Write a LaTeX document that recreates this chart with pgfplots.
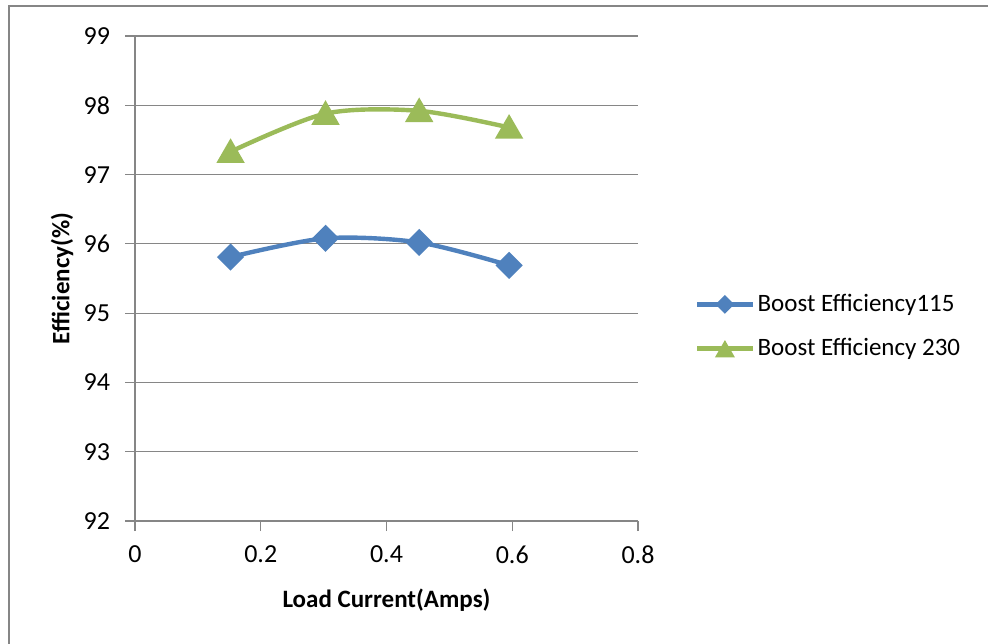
\documentclass[border=0pt]{standalone}
\usepackage{fontspec}
\setmainfont{Carlito}
\usepackage{pgfplots}
\pgfplotsset{compat=1.18}
\definecolor{ser1}{RGB}{79,129,189}
\definecolor{ser2}{RGB}{155,187,89}
\definecolor{gridc}{RGB}{134,134,134}
\begin{document}
\begin{tikzpicture}
\useasboundingbox (0,0) rectangle (494pt,321.5pt);
\draw[gridc, line width=1pt] (4.5pt,-5pt) -- (4.5pt,318.5pt) -- (500pt,318.5pt);
\begin{axis}[
  at={(67.5pt,61pt)}, anchor=south west,
  scale only axis, width=251.5pt, height=242.5pt,
  xmin=0, xmax=0.8, ymin=92, ymax=99,
  xtick={0,0.2,0.4,0.6,0.8}, ytick={92,93,...,99},
  xticklabels={0,0.2,0.4,0.6,0.8},
  axis x line*=bottom, axis y line*=left,
  axis line style={gridc, line width=0.6pt, -},
  tick style={gridc, line width=0.6pt},
  tick align=outside, major tick length=5pt,
  ymajorgrids, grid style={gridc, line width=0.6pt},
  /pgf/number format/assume math mode=true,
  ticklabel style={font=\fontsize{13}{15}\selectfont},
  xticklabel style={yshift=-4pt},
  yticklabel style={xshift=-4pt},
  xlabel={Load Current(Amps)}, ylabel={Efficiency(\%)},
  label style={font=\fontsize{12.5}{15}\selectfont\bfseries},
  xlabel style={at={(axis description cs:0.5,-0.163)}, anchor=center},
  ylabel style={at={(axis description cs:-0.145,0.5)}, anchor=center, rotate=0},
  legend style={draw=none, fill=none, at={(1.113,0.401)}, anchor=west,
    font=\fontsize{12.5}{15}\selectfont, row sep=9pt, inner sep=0pt,
    nodes={inner sep=1.5pt}},
  legend cell align=left,
  legend image code/.code={\draw[mark repeat=2,mark phase=2,#1,every mark/.append style={scale=0.6}] plot coordinates {(0pt,0pt) (13.75pt,0pt) (27.5pt,0pt)};},
  clip=false,
]
\addplot[ser1, line width=2.2pt, smooth, mark=square*, mark size=3.7pt, mark options={rotate=45, solid}]
  coordinates {(0.152,95.81) (0.303,96.08) (0.452,96.02) (0.595,95.69)};
\addlegendentry{Boost Efficiency115}
\addplot[ser2, line width=2.2pt, smooth, mark=triangle*, mark size=6pt, mark options={solid, yshift=-1.5pt}]
  coordinates {(0.152,97.33) (0.303,97.88) (0.452,97.92) (0.595,97.68)};
\addlegendentry{Boost Efficiency 230}
\end{axis}
\end{tikzpicture}
\end{document}
